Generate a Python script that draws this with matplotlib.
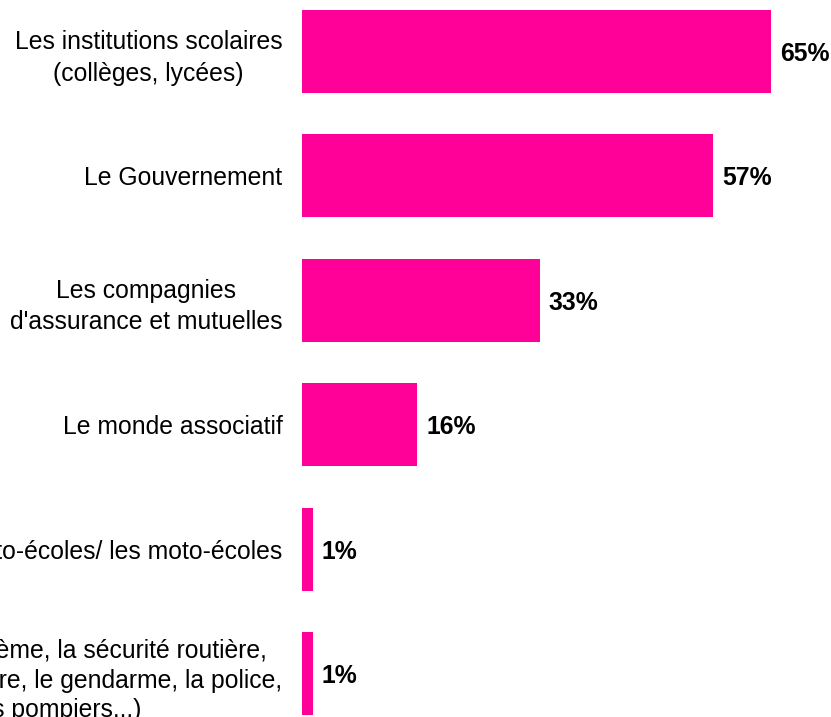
import matplotlib.pyplot as plt

# Data
categories = [
    "Les institutions scolaires\n(collèges, lycées)",
    "Le Gouvernement",
    "Les compagnies\nd'assurance et mutuelles",
    "Le monde associatif",
    "Les auto-écoles/ les moto-écoles",
    "L'État (le système, la sécurité routière,\nla force de l'ordre, le gendarme, la police,\nles pompiers...)",
]
values = [65, 57, 33, 16, 1.5, 1.5]
value_labels = ["65%", "57%", "33%", "16%", "1%", "1%"]

plt.rcParams['font.family'] = ['Liberation Sans', 'DejaVu Sans']

fig = plt.figure(figsize=(8.31, 7.17), dpi=100)
# axes start where the bars start; labels spill off the left edge
ax = fig.add_axes([302 / 831, 0, 529 / 831, 1])

pos = list(range(len(categories)))
ax.barh(pos, values, height=0.667, color='#FF0099')

for p, v, lab in zip(pos, values, value_labels):
    ax.text(v + 1.2, p + 0.02, lab, va='center', ha='left', fontsize=17.8, fontweight='bold')

ax.set_yticks(pos)
ax.set_yticklabels(categories, fontsize=17.8, multialignment='center', linespacing=1.4)
ax.get_yticklabels()[-1].set_linespacing(1.3)
ax.tick_params(axis='y', length=0, pad=14)
ax.set_xticks([])
ax.set_xlim(0, 529 / 7.215)
ax.set_ylim(5.35, -0.414)
for s in ax.spines.values():
    s.set_visible(False)

fig.savefig('out.png', dpi=100)
